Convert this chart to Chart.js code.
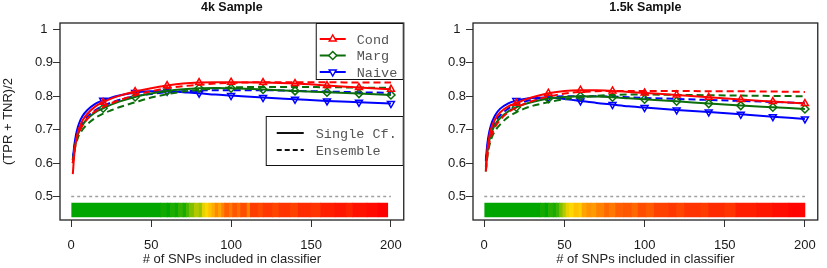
<!DOCTYPE html>
<html><head><meta charset="utf-8">
<script src="https://cdn.jsdelivr.net/npm/chart.js@4/dist/chart.umd.min.js"></script>
<style>
html,body{margin:0;padding:0;background:#fff;}
#wrap{position:relative;width:827px;height:268px;overflow:hidden;}
canvas{position:absolute;top:0;}
#chart1{left:0;} #chart2{left:413px;}
</style></head><body>
<div id="wrap">
<canvas id="chart1" width="413" height="268"></canvas>
<canvas id="chart2" width="414" height="268"></canvas>
</div>
<script>
// ---------- data ----------
const snpX = [1,2,3,4,5,7,10,15,20,25,30,40,50,60,70,80,90,100,120,140,160,180,200];
const xTicks = [0,50,100,150,200];
const yTicks = [0.5,0.6,0.7,0.8,0.9,1];
const chanceLevel = 0.5;
const methodNames = ['Cond','Marg','Naive'];
const typeNames = ['Single Cf.','Ensemble'];
const panelTitles = ['4k Sample','1.5k Sample'];

// 4k sample
const cond4kSingle  = [0.567,0.63,0.665,0.69,0.705,0.727,0.747,0.769,0.782,0.793,0.801,0.814,0.824,0.832,0.838,0.841,0.842,0.842,0.841,0.838,0.832,0.826,0.821];
const cond4kEns     = [0.60,0.64,0.665,0.683,0.695,0.713,0.732,0.755,0.768,0.779,0.788,0.803,0.815,0.824,0.83,0.834,0.838,0.84,0.842,0.842,0.842,0.841,0.841];
const marg4kSingle  = [0.60,0.64,0.665,0.682,0.695,0.713,0.732,0.752,0.764,0.775,0.784,0.798,0.808,0.816,0.821,0.824,0.825,0.824,0.82,0.816,0.812,0.808,0.804];
const marg4kEns     = [0.60,0.635,0.658,0.673,0.685,0.70,0.716,0.735,0.748,0.758,0.767,0.782,0.796,0.806,0.814,0.819,0.823,0.826,0.828,0.828,0.827,0.826,0.825];
const naive4kSingle = [0.61,0.655,0.685,0.705,0.72,0.74,0.758,0.777,0.788,0.796,0.802,0.811,0.815,0.815,0.812,0.809,0.805,0.802,0.796,0.791,0.786,0.782,0.778];
const naive4kEns    = [0.61,0.648,0.672,0.69,0.702,0.72,0.738,0.758,0.771,0.781,0.789,0.80,0.807,0.812,0.815,0.817,0.818,0.818,0.818,0.816,0.814,0.812,0.81];

// 1.5k sample
const cond15kSingle  = [0.575,0.64,0.675,0.698,0.712,0.733,0.752,0.77,0.779,0.789,0.797,0.809,0.816,0.818,0.818,0.816,0.813,0.81,0.804,0.797,0.79,0.784,0.778];
const cond15kEns     = [0.58,0.625,0.655,0.675,0.69,0.71,0.73,0.752,0.766,0.777,0.786,0.799,0.808,0.813,0.815,0.816,0.816,0.816,0.816,0.815,0.815,0.814,0.813];
const marg15kSingle  = [0.59,0.635,0.663,0.683,0.697,0.717,0.735,0.755,0.767,0.776,0.783,0.793,0.798,0.80,0.799,0.797,0.794,0.791,0.785,0.778,0.772,0.767,0.762];
const marg15kEns     = [0.575,0.62,0.648,0.666,0.68,0.698,0.716,0.738,0.752,0.763,0.771,0.782,0.791,0.797,0.801,0.804,0.805,0.805,0.804,0.803,0.802,0.801,0.80];
const naive15kSingle = [0.61,0.66,0.69,0.71,0.725,0.745,0.763,0.779,0.787,0.792,0.795,0.796,0.792,0.786,0.78,0.775,0.77,0.766,0.759,0.753,0.746,0.739,0.732];
const naive15kEns    = [0.605,0.648,0.675,0.693,0.706,0.725,0.743,0.763,0.775,0.784,0.79,0.797,0.80,0.80,0.80,0.799,0.797,0.795,0.792,0.789,0.786,0.783,0.779];

// colour bar: SNP breakpoints and heat value (0 = green, 0.5 = yellow, 1 = red) of each segment
const heatBreaks4k = [0,56,60,62,65,67,70,72,74,77,80,82,84,86,88,90,92,94,96,99,101,104,106,110,112,117,120,126,130,137,142,150,156,165,172,176,185,192,198];
const heatValues4k = [0,0.03,0,0.06,0.02,0.1,0.05,0.15,0.25,0.35,0.3,0.45,0.5,0.55,0.6,0.68,0.62,0.7,0.78,0.72,0.8,0.75,0.82,0.7,0.86,0.83,0.87,0.84,0.88,0.85,0.9,0.88,0.93,0.95,0.92,0.96,0.98,1.0];
const heatBreaks15k = [0,35,38,40,43,45,47,49,51,53,56,59,61,64,67,70,75,78,82,87,92,96,101,106,115,120,125,135,140,150,157,170,180,190,200];
const heatValues15k = [0,0.04,0,0.08,0.05,0.12,0.25,0.35,0.45,0.5,0.55,0.52,0.62,0.66,0.64,0.7,0.76,0.72,0.78,0.8,0.76,0.82,0.79,0.85,0.87,0.84,0.88,0.86,0.9,0.88,0.93,0.95,0.97,0.99];

// ---------- styles ----------
const RED = '#ff0000', GREEN = '#0b6e0b', BLUE = '#0000ff';
const SANS = '"Liberation Sans", Arial, sans-serif';
const MONO = '"Liberation Mono", "DejaVu Sans Mono", monospace';
const DASH = [7,4];

function heatColor(h){
  let r,g,b=0;
  if (h <= 0.5){ const t = h/0.5; r = Math.round(255*t); g = Math.round(166 + (215-166)*t); }
  else { const t = (h-0.5)/0.5; r = 255; g = Math.round(215*(1-t)); }
  return `rgb(${r},${g},${b})`;
}
const pts = vals => snpX.map((x,i)=>({x, y: vals[i]}));
const markerRadius = ctx => (ctx.raw && ctx.raw.x % 20 === 0) ? 4 : 0;

function lineDs(vals, color, dashed, marker, rot, order){
  return {
    type:'line', data: pts(vals), borderColor: color, borderWidth: 2,
    borderDash: dashed ? DASH : [], cubicInterpolationMode:'monotone',
    pointRadius: dashed ? 0 : markerRadius, pointStyle: marker, rotation: rot,
    pointBorderColor: color, pointBackgroundColor:'rgba(255,255,255,0)', pointBorderWidth: 1.5,
    order
  };
}

function buildDatasets(series, breaks, heats){
  const [cs, ce, ms, me, ns, ne] = series;
  const barData = heats.map((h,i)=>({x:[breaks[i], breaks[i+1]], y: 0.46}));
  return [
    lineDs(cs, RED, false, 'triangle', 0, 1),
    lineDs(ce, RED, true, 'triangle', 0, 2),
    lineDs(ms, GREEN, false, 'rectRot', 0, 3),
    lineDs(me, GREEN, true, 'rectRot', 0, 4),
    lineDs(ns, BLUE, false, 'triangle', 180, 5),
    lineDs(ne, BLUE, true, 'triangle', 180, 6),
    { type:'line', data:[{x:0,y:chanceLevel},{x:200,y:chanceLevel}], borderColor:'#a0a0a0',
      borderWidth:1.5, borderDash:[3,3], pointRadius:0, order:8 },
    { type:'bar', indexAxis:'y', data: barData, backgroundColor: heats.map(heatColor),
      borderWidth:0, barThickness:14, grouped:false, order:9 }
  ];
}

function drawMarker(ctx, style, x, y, r, color){
  ctx.save(); ctx.strokeStyle = color; ctx.lineWidth = 1.5; ctx.fillStyle = '#fff';
  ctx.beginPath();
  if (style === 'up'){
    ctx.moveTo(x, y - r); ctx.lineTo(x + r*0.866, y + r*0.5); ctx.lineTo(x - r*0.866, y + r*0.5);
  } else if (style === 'down'){
    ctx.moveTo(x, y + r); ctx.lineTo(x + r*0.866, y - r*0.5); ctx.lineTo(x - r*0.866, y - r*0.5);
  } else {
    ctx.moveTo(x, y - r); ctx.lineTo(x + r, y); ctx.lineTo(x, y + r); ctx.lineTo(x - r, y);
  }
  ctx.closePath(); ctx.fill(); ctx.stroke(); ctx.restore();
}

const decor = {
  id:'decor',
  afterDraw(chart, args, opts){
    const ctx = chart.ctx, ca = chart.chartArea;
    ctx.save();
    // box
    ctx.strokeStyle = '#222'; ctx.lineWidth = 1.3;
    ctx.strokeRect(ca.left, ca.top, ca.right - ca.left, ca.bottom - ca.top);
    // title
    const cx = (ca.left + ca.right)/2;
    ctx.fillStyle = '#111'; ctx.textAlign = 'center'; ctx.textBaseline = 'middle';
    ctx.font = 'bold 12.5px ' + SANS;
    ctx.fillText(opts.title, cx, 8);
    // x axis title
    ctx.font = '13px ' + SANS; ctx.fillStyle = '#222';
    ctx.fillText('# of SNPs included in classifier', cx, 259);
    // y axis title
    if (opts.yTitle){
      ctx.save(); ctx.translate(8, (ca.top + ca.bottom)/2); ctx.rotate(-Math.PI/2);
      ctx.fillText('(TPR + TNR)/2', 0, 0); ctx.restore();
    }
    if (opts.legend){
      // method legend
      let bx = ca.right - 88, by = ca.top, bw = 88, bh = 57;
      ctx.fillStyle = '#fff'; ctx.fillRect(bx, by, bw, bh);
      ctx.strokeStyle = '#111'; ctx.lineWidth = 1; ctx.strokeRect(bx+0.5, by+0.5, bw-1, bh-1);
      const cols = [RED, GREEN, BLUE], marks = ['up','diamond','down'];
      ctx.font = '13.5px ' + MONO; ctx.textAlign = 'left'; ctx.textBaseline = 'middle';
      methodNames.forEach((n,i)=>{
        const y = by + 16 + i*16.5;
        ctx.strokeStyle = cols[i]; ctx.lineWidth = 2; ctx.setLineDash([]);
        ctx.beginPath(); ctx.moveTo(bx+4, y); ctx.lineTo(bx+30, y); ctx.stroke();
        drawMarker(ctx, marks[i], bx+17, y, 4, cols[i]);
        ctx.fillStyle = '#555'; ctx.fillText(n, bx+41, y+1);
      });
      // type legend
      bx = ca.right - 138; by = 116; bw = 138; bh = 50;
      ctx.fillStyle = '#fff'; ctx.fillRect(bx, by, bw, bh);
      ctx.strokeStyle = '#111'; ctx.lineWidth = 1; ctx.strokeRect(bx+0.5, by+0.5, bw-1, bh-1);
      typeNames.forEach((n,i)=>{
        const y = by + 17 + i*17;
        ctx.strokeStyle = '#111'; ctx.lineWidth = 2; ctx.setLineDash(i ? [5,3] : []);
        ctx.beginPath(); ctx.moveTo(bx+11, y); ctx.lineTo(bx+38, y); ctx.stroke();
        ctx.setLineDash([]);
        ctx.fillStyle = '#555'; ctx.fillText(n, bx+50, y+1);
      });
    }
    ctx.restore();
  }
};

function makeChart(id, series, breaks, heats, title, first){
  return new Chart(document.getElementById(id), {
    type:'line',
    data:{ datasets: buildDatasets(series, breaks, heats) },
    options:{
      responsive:false, animation:false, events:[], devicePixelRatio:1,
      layout:{ padding:{ left:0, right: first ? 3 : 6, top:23, bottom:0 } },
      plugins:{ legend:{display:false}, tooltip:{enabled:false}, title:{display:false},
        decor:{ title, yTitle:first, legend:first } },
      scales:{
        x:{ type:'linear', min:-7, max:208, offset:false,
          afterBuildTicks: s => { s.ticks = xTicks.map(v=>({value:v})); },
          afterFit: s => { s.height = 48; },
          ticks:{ font:{family:SANS, size:13}, color:'#1a1a1a', padding:11, maxRotation:0, autoSkip:false,
            callback: v => String(v) },
          grid:{ drawOnChartArea:false, drawTicks:true, tickLength:7, color:'#333', lineWidth:1, offset:false },
          border:{ display:false }
        },
        y:{ type:'linear', min:0.43, max:1.019, offset:false,
          afterBuildTicks: s => { s.ticks = yTicks.map(v=>({value:v})); },
          afterFit: s => { s.width = 60; },
          ticks:{ font:{family:SANS, size:13}, color:'#1a1a1a', padding:0, crossAlign:'center',
            callback: v => String(+v.toFixed(1)) },
          grid:{ drawOnChartArea:false, drawTicks:true, tickLength:7, color:'#333', lineWidth:1, offset:false },
          border:{ display:false }
        }
      }
    },
    plugins:[decor]
  });
}

makeChart('chart1', [cond4kSingle, cond4kEns, marg4kSingle, marg4kEns, naive4kSingle, naive4kEns],
  heatBreaks4k, heatValues4k, panelTitles[0], true);
makeChart('chart2', [cond15kSingle, cond15kEns, marg15kSingle, marg15kEns, naive15kSingle, naive15kEns],
  heatBreaks15k, heatValues15k, panelTitles[1], false);
</script>
</body></html>
